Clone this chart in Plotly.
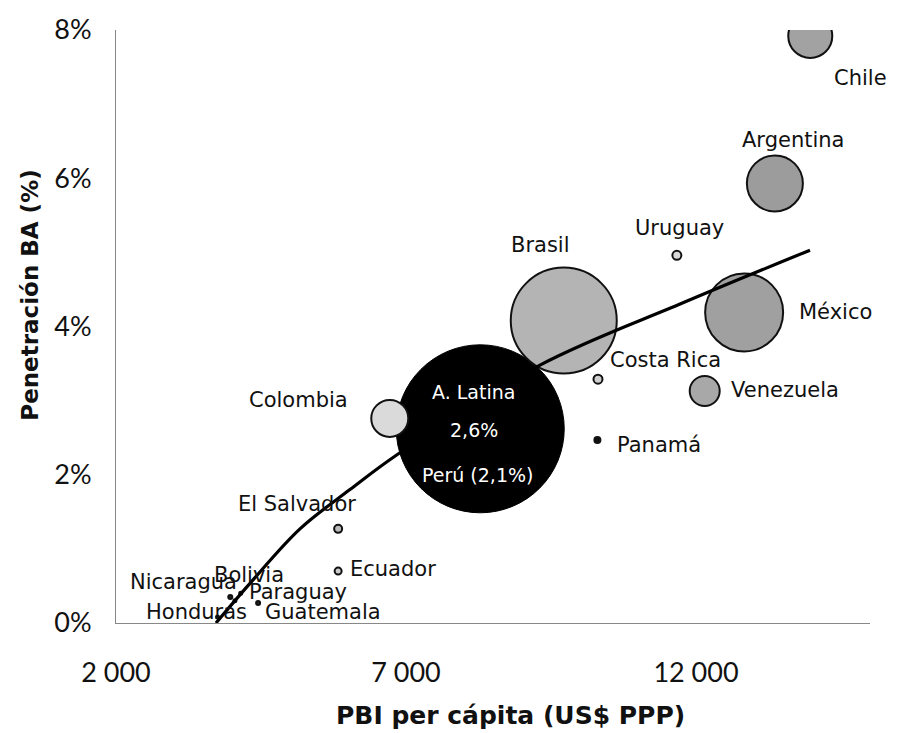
import plotly.graph_objects as go

# ---------------- data ----------------
countries = ["Chile", "Argentina", "Uruguay", "Brasil", "México", "Costa Rica",
             "Venezuela", "Panamá", "Colombia", "El Salvador", "Ecuador",
             "Nicaragua", "Bolivia", "Paraguay", "Honduras", "Guatemala"]
gdp_pc = [13970, 13360, 11670, 9720, 12830, 10310, 12150, 10300, 6720, 5830, 5830,
          3970, 4150, 4050, 3750, 4450]
penetration = [7.92, 5.93, 4.96, 4.08, 4.19, 3.29, 3.13, 2.47, 2.76, 1.27, 0.70,
               0.35, 0.40, 0.30, 0.08, 0.27]
bubble_size = [44, 56, 9, 106, 78, 9, 30, 6, 37, 8, 7, 4, 3, 3, 3, 4]

region_name = "A. Latina"
region_gdp = 8280
region_pen = 2.62
region_size = 168
region_label = "2,6%"
peru_label = "Perú (2,1%)"

trend_x = [3724, 4310, 5172, 6034, 6845, 9310, 11776, 13966]
trend_y = [0.0, 0.535, 1.27, 1.80, 2.27, 3.48, 4.32, 5.03]

x_ticks = [2000, 7000, 12000]
x_ticktext = ["2 000", "7 000", "12 000"]
y_ticks = [0, 2, 4, 6, 8]
y_ticktext = ["0%", "2%", "4%", "6%", "8%"]

# ---------------- styles ----------------
fills = {"Chile": "#a2a2a2", "Argentina": "#9c9c9c", "Uruguay": "#d8d8d8",
         "Brasil": "#b4b4b4", "México": "#a0a0a0", "Costa Rica": "#cfcfcf",
         "Venezuela": "#a8a8a8", "Panamá": "#111111", "Colombia": "#dadada",
         "El Salvador": "#bbbbbb", "Ecuador": "#cccccc", "Nicaragua": "#222222",
         "Bolivia": "#111111", "Paraguay": "#111111", "Honduras": "#111111",
         "Guatemala": "#222222"}
label_shift = {"Chile": (50, -42), "Argentina": (18, 43), "Uruguay": (3, 27),
               "Brasil": (-23, 76), "México": (91, 0), "Costa Rica": (68, 19),
               "Venezuela": (80, 1), "Panamá": (62, -5), "Colombia": (-91, 18),
               "El Salvador": (-41, 25), "Ecuador": (55, 2), "Nicaragua": (-47, 15),
               "Bolivia": (8, 18), "Paraguay": (63, 9), "Honduras": (-21, 5),
               "Guatemala": (65, -9)}

label_font = dict(family="DejaVu Sans", size=21, color="#111111")

fig = go.Figure()

# Region bubble (black)
fig.add_trace(go.Scatter(
    x=[region_gdp], y=[region_pen], mode="markers",
    marker=dict(size=[region_size], sizemode="diameter", color="#000000", opacity=1,
                line=dict(color="#000000", width=1)),
    hoverinfo="skip", showlegend=False))

# Country bubbles
fig.add_trace(go.Scatter(
    x=gdp_pc, y=penetration, mode="markers",
    marker=dict(size=bubble_size, sizemode="diameter", opacity=1,
                color=[fills[c] for c in countries],
                line=dict(color="#111111", width=2)),
    text=countries, hoverinfo="text", showlegend=False))

# Trend line
fig.add_trace(go.Scatter(
    x=trend_x, y=trend_y, mode="lines", line=dict(color="#000000", width=3.2,
                                                  shape="spline", smoothing=1.0),
    hoverinfo="skip", showlegend=False))

annotations = []
for c, gx, py in zip(countries, gdp_pc, penetration):
    dx, dy = label_shift[c]
    annotations.append(dict(x=gx, y=py, xref="x", yref="y", text=c, showarrow=False,
                            xshift=dx, yshift=dy, font=label_font))

white_font = dict(family="DejaVu Sans", size=19, color="#ffffff")
annotations += [
    dict(x=region_gdp, y=region_pen, text=region_name, showarrow=False,
         xshift=-7, yshift=37, font=white_font),
    dict(x=region_gdp, y=region_pen, text=region_label, showarrow=False,
         xshift=-6, yshift=-1, font=white_font),
    dict(x=region_gdp, y=region_pen, text=peru_label, showarrow=False,
         xshift=-3, yshift=-46, font=white_font),
    dict(x=-0.114, y=0.552, xref="paper", yref="paper", text="<b>Penetración BA (%)</b>",
         textangle=-90, showarrow=False, xanchor="center", yanchor="middle",
         font=dict(family="DejaVu Sans", size=23, color="#111111")),
    dict(x=0.523, y=-0.156, xref="paper", yref="paper", text="<b>PBI per cápita (US$ PPP)</b>",
         showarrow=False, xanchor="center", yanchor="middle",
         font=dict(family="DejaVu Sans", size=25, color="#111111")),
]

fig.update_layout(
    width=897, height=733,
    margin=dict(l=116, r=27, t=25, b=110),
    paper_bgcolor="white", plot_bgcolor="white",
    annotations=annotations,
    xaxis=dict(range=[2000, 15000], tickvals=x_ticks, ticktext=x_ticktext,
               showgrid=False, zeroline=False, showline=True, linecolor="#888888",
               linewidth=1, ticks="", ticklabelstandoff=26,
               tickfont=dict(family="Lato", size=27, color="#111111")),
    yaxis=dict(range=[0, 8], tickvals=y_ticks, ticktext=y_ticktext,
               showgrid=False, zeroline=False, showline=True, linecolor="#888888",
               linewidth=1, ticks="", ticklabelstandoff=18,
               tickfont=dict(family="Lato", size=27, color="#111111")),
)

fig.write_html("out.html", config={"displayModeBar": False},
               post_script="document.body.style.margin='0px';"
                           "document.body.style.overflow='hidden';")
